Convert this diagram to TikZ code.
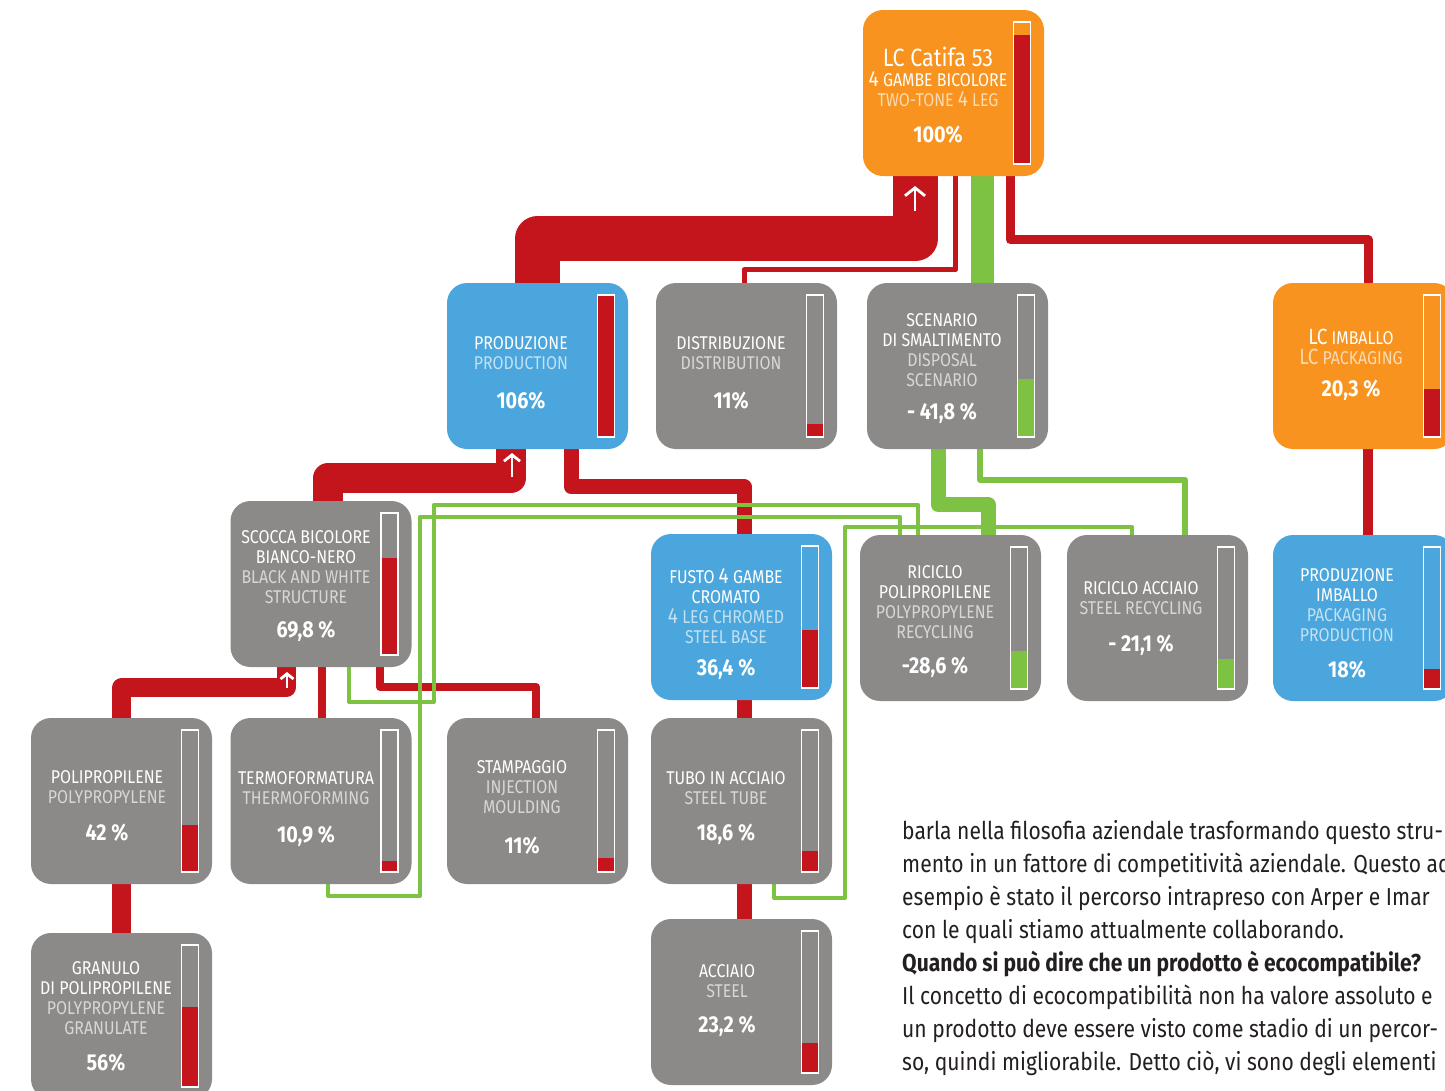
\documentclass[tikz,border=0pt]{standalone}
\usepackage{fontspec}
\setmainfont{Fira Sans}[FakeStretch=0.86]
\usetikzlibrary{calc,backgrounds,arrows.meta}

\definecolor{lcorange}{HTML}{F7931E}
\definecolor{lcblue}{HTML}{4AA6DC}
\definecolor{lcgrey}{HTML}{8C8A88}
\definecolor{lcred}{HTML}{C4141C}
\definecolor{lcgreen}{HTML}{7DC242}
\definecolor{bodygrey}{HTML}{231F20}

% english lines are lighter than the italian ones
\newcommand{\en}[1]{\textcolor{en}{#1}}
\newcommand{\bigdigit}[1]{{\fontsize{22}{20}\selectfont #1}}

% bar on the right side of a stage: node, filled part, colour
\newcommand{\stagebar}[3]{%
  \fill[#3] ($(#1.center)+(60,71)$) rectangle ($(#1.center)+(77,{71-142*#2})$);
  \draw[barframe] ($(#1.center)+(60,-71)$) rectangle ($(#1.center)+(77,71)$);}

\tikzset{
  stage/.style={rounded corners=20pt, minimum width=181pt, minimum height=166pt, inner sep=0pt},
  orangestage/.style={stage, fill=lcorange},
  bluestage/.style={stage, fill=lcblue},
  greystage/.style={stage, fill=lcgrey},
  stagetext/.style={text=white, align=center, inner sep=0pt, font=\fontsize{18.5}{20}\selectfont},
  pcttext/.style={text=white, inner sep=0pt, font=\bfseries\fontsize{23}{24}\selectfont},
  english on/.style={execute at begin node=\colorlet{en}{white!66!#1}},
  barframe/.style={draw=white, line width=1.5pt},
  redflow/.style={draw=lcred, line join=round},
  greenflow/.style={draw=lcgreen, line join=round},
  uparrow/.style={draw=white, line width=2.8pt, -{Straight Barb[length=#1*0.4, width=#1]}},
  bodytext/.style={text=bodygrey, align=left, inner sep=0pt, font=\fontsize{24.5}{33}\selectfont}
}

\begin{document}
\begin{tikzpicture}[x=1pt, y=-1pt]
  \useasboundingbox (0,0) rectangle (1445,1090);
  \clip (0,0) rectangle (1445,1090);

  % Stages
  \node[orangestage] (cat) at (953.5,93) {};
  \node[bluestage] (prod) at (537.5,366) {};
  \node[greystage] (dist) at (746.5,366) {};
  \node[greystage] (scen) at (957.5,366) {};
  \node[orangestage] (imb) at (1363.5,366) {};
  \node[greystage] (scocca) at (321,584) {};
  \node[bluestage] (fusto) at (741.5,617) {};
  \node[greystage] (ricpp) at (950.5,618) {};
  \node[greystage] (ricst) at (1157.5,618) {};
  \node[bluestage] (prodimb) at (1363.5,618) {};
  \node[greystage] (polip) at (121.5,801) {};
  \node[greystage] (termo) at (321,801) {};
  \node[greystage] (stamp) at (537.5,801) {};
  \node[greystage] (tubo) at (741.5,801) {};
  \node[greystage] (granulo) at (121.5,1016) {};
  \node[greystage] (acciaio) at (741.5,1002) {};

  % Texts of the stages
  \node[stagetext, english on=lcorange] (cattext) at (938,76.5)
    {{\fontsize{25}{20}\selectfont LC Catifa 53}\\\bigdigit{4} GAMBE BICOLORE\\\en{TWO-TONE \bigdigit{4} LEG}};
  \node[pcttext] (catpct) at (938,135) {100\%};
  \node[stagetext, english on=lcblue] (prodtext) at (521,353) {PRODUZIONE\\\en{PRODUCTION}};
  \node[pcttext] (prodpct) at (521,401) {106\%};
  \node[stagetext, english on=lcgrey] (disttext) at (731,353) {DISTRIBUZIONE\\\en{DISTRIBUTION}};
  \node[pcttext] (distpct) at (731,401) {11\%};
  \node[stagetext, english on=lcgrey] (scentext) at (942,350)
    {SCENARIO\\DI SMALTIMENTO\\\en{DISPOSAL}\\\en{SCENARIO}};
  \node[pcttext] (scenpct) at (942,413) {- 41,8 \%};
  \node[stagetext, english on=lcorange] (imbtext) at (1351,347) {\bigdigit{LC} IMBALLO\\\en{\bigdigit{LC} PACKAGING}};
  \node[pcttext] (imbpct) at (1351,390) {20,3 \%};
  \node[stagetext, english on=lcgrey] (scoccatext) at (306,567)
    {SCOCCA BICOLORE\\BIANCO-NERO\\\en{BLACK AND WHITE}\\\en{STRUCTURE}};
  \node[pcttext] (scoccapct) at (306,631) {69,8 \%};
  \node[stagetext, english on=lcblue] (fustotext) at (726,606)
    {FUSTO \bigdigit{4} GAMBE\\CROMATO\\\en{\bigdigit{4} LEG CHROMED}\\\en{STEEL BASE}};
  \node[pcttext] (fustopct) at (726,669) {36,4 \%};
  \node[stagetext, english on=lcgrey] (ricpptext) at (935,602)
    {RICICLO\\POLIPROPILENE\\\en{POLYPROPYLENE}\\\en{RECYCLING}};
  \node[pcttext] (ricpppct) at (935,667) {-28,6 \%};
  \node[stagetext, english on=lcgrey] (ricsttext) at (1141,598) {RICICLO ACCIAIO\\\en{STEEL RECYCLING}};
  \node[pcttext] (ricstpct) at (1141,645) {- 21,1 \%};
  \node[stagetext, english on=lcblue] (prodimbtext) at (1347,605)
    {PRODUZIONE\\IMBALLO\\\en{PACKAGING}\\\en{PRODUCTION}};
  \node[pcttext] (prodimbpct) at (1347,670) {18\%};
  \node[stagetext, english on=lcgrey] (poliptext) at (107,787) {POLIPROPILENE\\\en{POLYPROPYLENE}};
  \node[pcttext] (polippct) at (107,833) {42 \%};
  \node[stagetext, english on=lcgrey] (termotext) at (306,788) {TERMOFORMATURA\\\en{THERMOFORMING}};
  \node[pcttext] (termopct) at (306,836) {10,9 \%};
  \node[stagetext, english on=lcgrey] (stamptext) at (522,787) {STAMPAGGIO\\\en{INJECTION}\\\en{MOULDING}};
  \node[pcttext] (stamppct) at (522,846) {11\%};
  \node[stagetext, english on=lcgrey] (tubotext) at (726,788) {TUBO IN ACCIAIO\\\en{STEEL TUBE}};
  \node[pcttext] (tubopct) at (726,834) {18,6 \%};
  \node[stagetext, english on=lcgrey] (granulotext) at (106,998)
    {GRANULO\\DI POLIPROPILENE\\\en{POLYPROPYLENE}\\\en{GRANULATE}};
  \node[pcttext] (granulopct) at (106,1063) {56\%};
  \node[stagetext, english on=lcgrey] (acciaiotext) at (727,981) {ACCIAIO\\\en{STEEL}};
  \node[pcttext] (acciaiopct) at (727,1026) {23,2 \%};

  % Bars
  \stagebar{cat}{0.91}{lcred}
  \stagebar{prod}{1}{lcred}
  \stagebar{dist}{0.09}{lcred}
  \stagebar{scen}{0.41}{lcgreen}
  \stagebar{imb}{0.34}{lcred}
  \stagebar{scocca}{0.68}{lcred}
  \stagebar{fusto}{0.41}{lcred}
  \stagebar{ricpp}{0.27}{lcgreen}
  \stagebar{ricst}{0.21}{lcgreen}
  \stagebar{prodimb}{0.14}{lcred}
  \stagebar{polip}{0.33}{lcred}
  \stagebar{termo}{0.08}{lcred}
  \stagebar{stamp}{0.10}{lcred}
  \stagebar{tubo}{0.15}{lcred}
  \stagebar{granulo}{0.56}{lcred}
  \stagebar{acciaio}{0.21}{lcred}

  \begin{scope}[on background layer]
    % Red flows
    \draw[redflow, line width=45pt] ($(prod.north)+(0,5)$) |- ($(cat.south)+(-38,62.5)$) -- ($(cat.south)+(-38,-5)$);
    \draw[redflow, line width=5pt] ($(cat.south)+(2,-5)$) |- ($(dist.north)+(-2.5,-13)$) -- ($(dist.north)+(-2.5,5)$);
    \draw[redflow, line width=9pt] ($(cat.south)+(56.5,-5)$) |- ($(imb.north)+(4.5,-43)$) -- ($(imb.north)+(4.5,5)$);
    \draw[redflow, line width=10pt] ($(imb.south)+(4.5,-5)$) -- ($(prodimb.north)+(4.5,5)$);
    \draw[redflow, line width=30pt] ($(scocca.north)+(7,5)$) |- ($(prod.south)+(-26.5,29)$) -- ($(prod.south)+(-26.5,-5)$);
    \draw[redflow, line width=15pt] ($(prod.south)+(33.5,-5)$) |- ($(fusto.north)+(2.5,-47)$) -- ($(fusto.north)+(2.5,5)$);
    \draw[redflow, line width=15pt] ($(fusto.south)+(2.5,-5)$) -- ($(tubo.north)+(2.5,5)$);
    \draw[redflow, line width=15pt] ($(tubo.south)+(2.5,-5)$) -- ($(acciaio.north)+(2.5,5)$);
    \draw[redflow, line width=19pt] ($(scocca.south)+(-35,-5)$) |- ($(polip.north)+(0,-30)$) -- ($(polip.north)+(0,5)$);
    \draw[redflow, line width=19pt] ($(polip.south)+(0,-5)$) -- ($(granulo.north)+(0,5)$);
    \draw[redflow, line width=8pt] ($(scocca.south)+(1,-5)$) -- ($(termo.north)+(1,5)$);
    \draw[redflow, line width=8pt] ($(scocca.south)+(59,-5)$) |- ($(stamp.north)+(-1.5,-31)$) -- ($(stamp.north)+(-1.5,5)$);

    % Green flows
    \draw[greenflow, line width=23pt] ($(cat.south)+(28.5,-5)$) -- ($(scen.north)+(24.5,5)$);
    \draw[greenflow, line width=15pt] ($(scen.south)+(-19.5,-5)$) |- ($(ricpp.north)+(37.5,-30)$) -- ($(ricpp.north)+(37.5,5)$);
    \draw[greenflow, line width=6pt] ($(scen.south)+(22.5,-5)$) |- ($(ricst.north)+(27.5,-55)$) -- ($(ricst.north)+(27.5,5)$);
    \coordinate (scoccaturn) at (434,702);
    \coordinate (termoturn) at (420,896);
    \coordinate (tuboturn) at (845,898);
    \draw[greenflow, line width=4pt] ($(scocca.south)+(28,-5)$) |- (scoccaturn) |- ($(ricpp.north)+(-32.5,-30)$) -- ($(ricpp.north)+(-32.5,5)$);
    \draw[greenflow, line width=4pt] ($(termo.south)+(7,-5)$) |- (termoturn) |- ($(ricpp.north)+(-50.5,-18)$) -- ($(ricpp.north)+(-50.5,5)$);
    \draw[greenflow, line width=4pt] ($(tubo.south)+(32.5,-5)$) |- (tuboturn) |- ($(ricst.north)+(-25.5,-8)$) -- ($(ricst.north)+(-25.5,5)$);
  \end{scope}

  % Arrows on the red flows
  \draw[uparrow=20pt] (915,211) -- (915,186);
  \draw[uparrow=16pt] (512,477) -- (512,453);
  \draw[uparrow=13pt] (287,688) -- (287,672);

  % Article text
  \node[bodytext, anchor=north west] (article) at (902,820)
    {barla nella filosofia aziendale trasformando questo stru-\\
     mento in un fattore di competitività aziendale. Questo ad\\
     esempio è stato il percorso intrapreso con Arper e Imar\\
     con le quali stiamo attualmente collaborando.\\
     \textbf{Quando si può dire che un prodotto è ecocompatibile?}\\
     Il concetto di ecocompatibilità non ha valore assoluto e\\
     un prodotto deve essere visto come stadio di un percor-\\
     so, quindi migliorabile. Detto ciò, vi sono degli elementi};
\end{tikzpicture}
\end{document}
